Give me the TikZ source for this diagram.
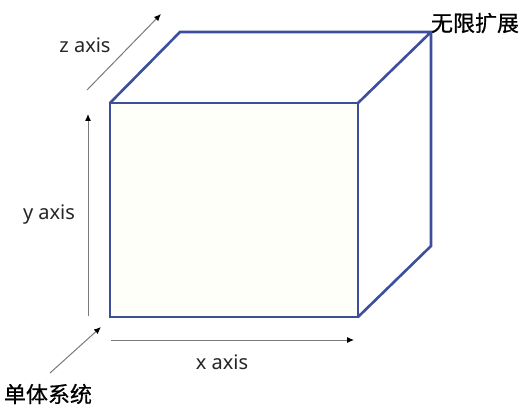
\documentclass[tikz,border=0pt]{standalone}
\usepackage{fontspec}
\setmainfont{Noto Sans}
\newfontfamily\cjk[FakeBold=0.6]{Noto Sans CJK SC}
\usetikzlibrary{arrows.meta}
\definecolor{boxblue}{HTML}{3D4F9C}
\definecolor{axisgray}{HTML}{7A7A7A}
\definecolor{facefill}{HTML}{FFFFFA}
\tikzset{
  edge/.style={draw=boxblue, line width=2.6pt, line join=miter},
  axisarrow/.style={draw=axisgray, line width=1pt, -{Latex[length=7pt,width=6pt,black]}},
  lbl/.style={font=\fontsize{20}{23}\selectfont, text=black!85, inner sep=0pt},
  cjklbl/.style={font=\cjk\fontsize{22}{25}\selectfont, text=black, inner sep=0pt}
}
\begin{document}
\begin{tikzpicture}[x=1pt,y=-1pt]
\useasboundingbox[fill=white] (0,0) rectangle (532,414);
% cube corners
\coordinate (FTL) at (110,103);
\coordinate (FTR) at (358,103);
\coordinate (FBL) at (110,317);
\coordinate (FBR) at (358,317);
\coordinate (BTL) at (180,32);
\coordinate (BTR) at (431,32);
\coordinate (BBR) at (431,246);
% faces
\fill[white] (FTL) -- (BTL) -- (BTR) -- (BBR) -- (FBR) -- (FTR) -- cycle;
\fill[facefill] (FTL) rectangle (FBR);
\draw[edge] (FTL) -- (BTL) -- (BTR) -- (FTR);
\draw[edge] (BTR) -- (BBR) -- (FBR);
\draw[edge] (FTL) rectangle (FBR);
% axes
\coordinate (zs) at (87,90);
\coordinate (ze) at (161,14);
\draw[axisarrow] (zs) -- (ze);
\coordinate (ys) at (88,316);
\coordinate (ye) at (88,114);
\draw[axisarrow] (ys) -- (ye);
\coordinate (xs) at (111,340);
\coordinate (xe) at (354,340);
\draw[axisarrow] (xs) -- (xe);
\coordinate (ms) at (50,373);
\coordinate (me) at (101,327);
\draw[axisarrow] (ms) -- (me);
% labels
\node[lbl] (zl) at (85,45) {z axis};
\node[lbl] (yl) at (49,215) {y axis};
\node[lbl] (xl) at (222,362) {x axis};
\node[cjklbl] (ext) at (475,23) {无限扩展};
\node[cjklbl] (mono) at (48,394) {单体系统};
\end{tikzpicture}
\end{document}
